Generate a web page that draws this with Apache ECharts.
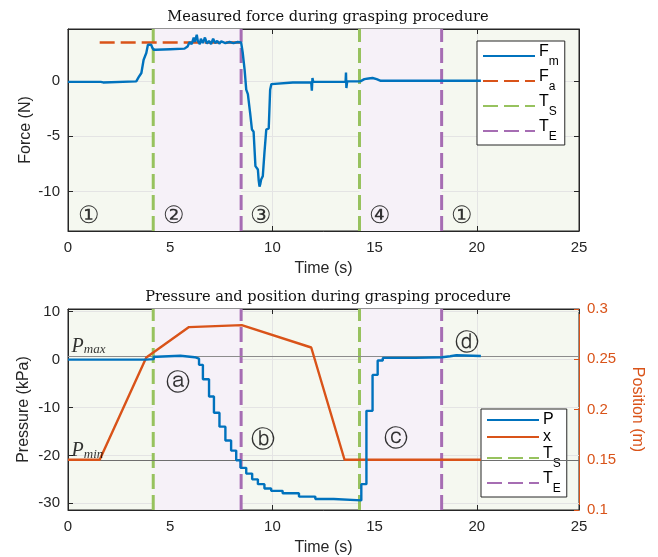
<!DOCTYPE html>
<html>
<head>
<meta charset="utf-8">
<script src="https://cdn.jsdelivr.net/npm/echarts@6/dist/echarts.min.js"></script>
<style>
  html, body { margin: 0; padding: 0; background: #fff; }
  #chart { width: 658px; height: 557px; }
</style>
</head>
<body>
<div id="chart"></div>
<script>
// measured force (top panel)
var fmTime  = [0, 1.6, 1.65, 1.72, 1.8, 3.34, 3.45, 3.59, 3.7, 3.83, 3.91, 4.07, 4.12, 4.19, 4.3, 5.0, 5.7, 5.85, 5.95, 6.05, 6.15, 6.2, 6.3, 6.35, 6.45, 6.5, 6.6, 6.7, 6.8, 6.9, 7.0, 7.1, 7.2, 7.3, 7.4, 7.5, 7.7, 7.9, 8.1, 8.3, 8.47, 8.55, 8.64, 8.72, 8.8, 8.91, 9.0, 9.08, 9.17, 9.29, 9.33, 9.37, 9.41, 9.45, 9.53, 9.61, 9.7, 9.82, 9.89, 9.95, 10.02, 11.0, 11.9, 11.93, 11.96, 12.0, 13.0, 13.58, 13.6, 13.62, 13.66, 14.3, 14.5, 14.7, 14.9, 15.1, 15.3, 16, 18, 20.2];
var fmForce = [-0.1, -0.1, 0.05, -0.15, -0.1, -0.05, 0.3, 0.7, 1.9, 2.5, 3.25, 3.25, 3.0, 2.8, 2.8, 2.85, 2.9, 3.1, 3.5, 3.3, 3.9, 3.5, 4.15, 3.6, 3.3, 3.8, 3.4, 3.9, 3.35, 3.6, 3.3, 3.8, 3.4, 3.6, 3.35, 3.55, 3.4, 3.5, 3.4, 3.5, 3.45, 2.5, 1.0, -0.8, -1.2, -2.9, -4.4, -4.6, -7.7, -8.0, -9.0, -9.55, -9.3, -8.9, -8.6, -6.5, -4.4, -4.3, -0.8, -0.3, -0.2, -0.15, -0.15, -0.9, 0.25, -0.1, -0.1, -0.1, 0.75, -0.65, -0.05, -0.05, 0.15, 0.2, 0.25, 0.15, 0.0, 0.0, 0.0, 0.0];
var faTime  = [1.55, 8.47];
var faForce = [3.45, 3.45];

// pressure and position (bottom panel)
var pTime     = [0, 3.8, 4.2, 4.35, 5.5, 6.2, 6.41, 6.6, 6.9, 7.14, 7.41, 7.7, 7.98, 8.23, 8.44, 8.72, 9.01, 9.29, 9.61, 9.94, 10.5, 11.3, 12.1, 13.0, 14.35, 14.6, 14.9, 15.15, 15.4, 17.0, 18.3, 18.7, 19.0, 20.2];
var pPressure = [0, 0.1, 0.6, 0.8, 0.5, 0.2, -1.1, -4.1, -7.7, -11.1, -14, -16.9, -19, -21, -22.6, -23.8, -25, -26, -26.9, -27.4, -27.9, -28.6, -29.1, -29.4, -26, -10.7, -3.2, -0.2, 0.35, 0.5, 0.7, 0.9, 0.75, 0.75];
var xTime     = [0, 1.55, 3.83, 5.92, 8.5, 11.9, 13.53, 20.2];
var xPosition = [0.15, 0.15, 0.2517, 0.282, 0.284, 0.2617, 0.15, 0.15];

var tsTimes = [4.17, 14.26];
var teTimes = [8.47, 18.28];
var pMax = 0.77;
var pMin = -21;

var forceTicks = [-10, -5, 0];
var pressureTicks = [-30, -20, -10, 0, 10];
var forceRange = [-13.55, 4.67];
var pressureRange = [-31.4, 10.56];
var positionRange = [0.1, 0.3];

var forceMarks = [[1.03, '\u2460'], [5.2, '\u2461'], [9.45, '\u2462'], [15.27, '\u2463'], [19.3, '\u2460']];
var pressureMarks = [[5.4, -5, '\u24D0'], [9.55, -17, '\u24D1'], [16.05, -16.8, '\u24D2'], [19.5, 3.4, '\u24D3']];

var BLUE = '#0072BD', ORANGE = '#D95319', GREEN = '#97C25E', PURPLE = '#A66DB3';
var AXIS = '#262626', GRIDC = '#e4e4e4';
var SANS = 'Liberation Sans', SERIF = 'Liberation Serif';
var CLEAR = 'rgba(0,0,0,0)';

function zip(a, b) { return a.map(function (v, i) { return [v, b[i]]; }); }
function vlines(times, range) {
  var out = [];
  times.forEach(function (t, i) {
    if (i > 0) out.push(['-', '-']);
    out.push([t, range[0]], [t, range[1]]);
  });
  return out;
}
function shade() {
  return tsTimes.map(function (t, i) { return [{ xAxis: t }, { xAxis: teTimes[i] }]; });
}

var legendNames = {
  'F_m': '{m|F}{s|m}', 'F_a': '{m|F}{s|a}', 'T_S': '{m|T}{s|S}', 'T_E': '{m|T}{s|E}',
  'P': '{p|P}', 'x': '{p|x}'
};
var legendRich = {
  m: { fontSize: 16, fontFamily: SANS, color: '#000', lineHeight: 24, verticalAlign: 'top' },
  s: { fontSize: 12, fontFamily: SANS, color: '#000', lineHeight: 22, verticalAlign: 'bottom' },
  p: { fontSize: 16, fontFamily: SANS, color: '#000', lineHeight: 18, verticalAlign: 'middle' }
};
function makeLegend(data, left, top) {
  return {
    data: data, orient: 'vertical', left: left, top: top,
    itemWidth: 52, itemHeight: 10, itemGap: 1,
    padding: [3, 6, 2, 5],
    backgroundColor: '#fff', borderColor: AXIS, borderWidth: 1, borderRadius: 0,
    selectedMode: false,
    itemStyle: { color: CLEAR, borderWidth: 0, opacity: 0 },
    formatter: function (n) { return legendNames[n]; },
    textStyle: { rich: legendRich, padding: [0, 0, 0, -1] }
  };
}

function xAx(grid, withName) {
  return {
    type: 'value', gridIndex: grid, min: 0, max: 25, interval: 5,
    position: withName ? 'bottom' : 'top',
    axisLine: { show: true, onZero: false, lineStyle: { color: AXIS } },
    axisTick: { show: true, inside: true, length: 5, lineStyle: { color: AXIS } },
    axisLabel: { show: withName, color: AXIS, fontSize: 15, fontFamily: SANS, margin: 9 },
    splitLine: { show: withName, lineStyle: { color: GRIDC } },
    name: withName ? 'Time (s)' : '', nameLocation: 'middle', nameGap: 30,
    nameTextStyle: { color: AXIS, fontSize: 16, fontFamily: SANS }
  };
}

var lineBase = { type: 'line', symbol: 'none', showSymbol: false, animation: false };
function dashed(name, color, data, xi, yi) {
  return Object.assign({}, lineBase, {
    name: name, xAxisIndex: xi, yAxisIndex: yi, data: data, z: 4,
    lineStyle: { color: color, width: 3, type: [15, 6] }, itemStyle: { color: color }
  });
}
function textMarks(name, xi, yi, data) {
  return { type: 'scatter', name: name, xAxisIndex: xi, yAxisIndex: yi, symbolSize: 1, z: 7,
    itemStyle: { color: CLEAR }, silent: true, data: data,
    label: { show: true, position: 'inside', color: '#000', fontSize: 24, fontFamily: 'DejaVu Serif',
      formatter: function (p) { return p.data[2]; } } };
}

var option = {
  animation: false,
  backgroundColor: '#fff',
  title: [
    { text: 'Measured force during grasping procedure', left: 323, top: 5, textAlign: 'center',
      textStyle: { fontFamily: 'DejaVu Serif', fontWeight: 'normal', fontSize: 14.6, color: '#111' } },
    { text: 'Pressure and position during grasping procedure', left: 323, top: 285, textAlign: 'center',
      textStyle: { fontFamily: 'DejaVu Serif', fontWeight: 'normal', fontSize: 14.6, color: '#111' } }
  ],
  legend: [
    makeLegend(['F_m', 'F_a', 'T_S', 'T_E'], 477, 41),
    makeLegend(['P', 'x', 'T_S', 'T_E'], 481, 409)
  ],
  grid: [
    { left: 68, top: 29, width: 511, height: 202, show: true, backgroundColor: '#F5F8F0', borderColor: AXIS, borderWidth: 1 },
    { left: 68, top: 309, width: 511, height: 201, show: true, backgroundColor: '#F5F8F0', borderColor: AXIS, borderWidth: 1 }
  ],
  xAxis: [xAx(0, true), xAx(0, false), xAx(1, true), xAx(1, false)],
  yAxis: [
    { type: 'value', gridIndex: 0, position: 'left', min: forceRange[0], max: forceRange[1],
      axisLine: { show: true, onZero: false, lineStyle: { color: AXIS } },
      axisTick: { show: true, inside: true, length: 5, customValues: forceTicks, lineStyle: { color: AXIS } },
      axisLabel: { customValues: forceTicks, color: AXIS, fontSize: 15, fontFamily: SANS, margin: 8 },
      splitLine: { show: true, lineStyle: { color: GRIDC } },
      name: 'Force (N)', nameLocation: 'middle', nameGap: 34, nameMoveOverlap: false,
      nameTextStyle: { color: AXIS, fontSize: 16, fontFamily: SANS } },
    { type: 'value', gridIndex: 0, position: 'right', min: forceRange[0], max: forceRange[1],
      axisLine: { show: true, onZero: false, lineStyle: { color: AXIS } },
      axisTick: { show: true, inside: true, length: 5, customValues: forceTicks, lineStyle: { color: AXIS } },
      axisLabel: { show: false }, splitLine: { show: false } },
    { type: 'value', gridIndex: 1, position: 'left', min: pressureRange[0], max: pressureRange[1],
      axisLine: { show: true, onZero: false, lineStyle: { color: AXIS } },
      axisTick: { show: true, inside: true, length: 5, customValues: pressureTicks, lineStyle: { color: AXIS } },
      axisLabel: { customValues: pressureTicks, color: AXIS, fontSize: 15, fontFamily: SANS, margin: 8 },
      splitLine: { show: true, lineStyle: { color: GRIDC } },
      name: 'Pressure (kPa)', nameLocation: 'middle', nameGap: 36, nameMoveOverlap: false,
      nameTextStyle: { color: AXIS, fontSize: 16, fontFamily: SANS } },
    { type: 'value', gridIndex: 1, position: 'right', min: positionRange[0], max: positionRange[1], interval: 0.05,
      axisLine: { show: true, onZero: false, lineStyle: { color: ORANGE } },
      axisTick: { show: true, inside: true, length: 5, lineStyle: { color: ORANGE } },
      axisLabel: { color: ORANGE, fontSize: 15, fontFamily: SANS, margin: 8,
        formatter: function (v) { return String(+v.toFixed(2)); } },
      splitLine: { show: false },
      name: 'Position (m)', nameLocation: 'middle', nameGap: 50, nameRotate: -90,
      nameTextStyle: { color: ORANGE, fontSize: 16, fontFamily: SANS } }
  ],
  series: [
    // shaded grasp intervals
    Object.assign({}, lineBase, { name: 'shade0', xAxisIndex: 0, yAxisIndex: 0, data: [], z: 1,
      markArea: { silent: true, itemStyle: { color: '#F6F1F8' }, data: shade() } }),
    Object.assign({}, lineBase, { name: 'shade1', xAxisIndex: 2, yAxisIndex: 2, data: [], z: 1,
      markArea: { silent: true, itemStyle: { color: '#F6F1F8' }, data: shade() } }),

    // top panel
    dashed('T_S', GREEN, vlines(tsTimes, forceRange), 0, 0),
    dashed('T_E', PURPLE, vlines(teTimes, forceRange), 0, 0),
    Object.assign({}, lineBase, { name: 'F_a', xAxisIndex: 0, yAxisIndex: 0, data: zip(faTime, faForce), z: 5,
      lineStyle: { color: ORANGE, width: 2.5, type: [15, 6] }, itemStyle: { color: ORANGE } }),
    Object.assign({}, lineBase, { name: 'F_m', xAxisIndex: 0, yAxisIndex: 0, data: zip(fmTime, fmForce), z: 6,
      lineStyle: { color: BLUE, width: 2.4 }, itemStyle: { color: BLUE } }),
    textMarks('marks0', 0, 0, forceMarks.map(function (m) { return [m[0], -12.25, m[1]]; })),

    // bottom panel
    dashed('T_S', GREEN, vlines(tsTimes, pressureRange), 2, 2),
    dashed('T_E', PURPLE, vlines(teTimes, pressureRange), 2, 2),
    Object.assign({}, lineBase, { name: 'x', xAxisIndex: 2, yAxisIndex: 3, data: zip(xTime, xPosition), z: 5,
      lineStyle: { color: ORANGE, width: 2.4 }, itemStyle: { color: ORANGE } }),
    Object.assign({}, lineBase, { name: 'P', xAxisIndex: 2, yAxisIndex: 2, data: zip(pTime, pPressure), z: 6,
      step: 'end', lineStyle: { color: BLUE, width: 2.4 }, itemStyle: { color: BLUE },
      markLine: { silent: true, symbol: 'none', label: { show: false },
        data: [
          { yAxis: pMax, lineStyle: { color: '#8c8c8c', width: 1, type: 'solid' } },
          { yAxis: pMin, lineStyle: { color: '#6e6e6e', width: 1, type: 'solid' } }
        ] } }),
    textMarks('marks1', 2, 2, pressureMarks),
    { type: 'scatter', name: 'plabels', xAxisIndex: 2, yAxisIndex: 2, symbolSize: 1, z: 7,
      itemStyle: { color: CLEAR }, silent: true,
      data: [[0.2, pMax, '{i|P}{s|max}'], [0.2, pMin, '{i|P}{s|min}']],
      label: { show: true, position: [0, 1], align: 'left', verticalAlign: 'bottom',
        formatter: function (p) { return p.data[2]; },
        rich: {
          i: { fontFamily: SERIF, fontStyle: 'italic', fontSize: 20, color: '#000', lineHeight: 20, verticalAlign: 'top' },
          s: { fontFamily: SERIF, fontStyle: 'italic', fontSize: 13, color: '#000', lineHeight: 18, verticalAlign: 'bottom' }
        } } }
  ]
};

var chart = echarts.init(document.getElementById('chart'), null, { renderer: 'canvas' });
chart.setOption(option);
</script>
</body>
</html>
